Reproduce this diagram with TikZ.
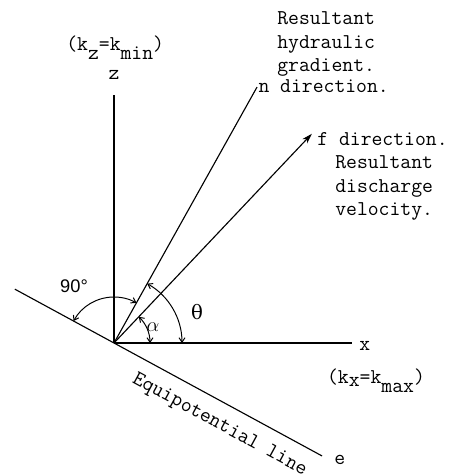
\documentclass[tikz,border=0pt]{standalone}
\usepackage{fontspec}
\setsansfont{Liberation Sans}
\newfontfamily\greekfont{DejaVu Serif}
\usetikzlibrary{positioning,arrows.meta,calc}
\newcommand{\lowsub}[2][0.4em]{\raisebox{-#1}{#2}}
\tikzset{
  axisLine/.style={line width=0.8pt, draw=black},
  dirArrow/.style={-{Stealth[length=2.6mm, width=1.6mm]}, line width=0.8pt, draw=black},
  angArc/.style={{Straight Barb[length=1.1mm, width=1.5mm]}-{Straight Barb[length=1.1mm, width=1.5mm]}, line width=0.7pt},
  lbl/.style={font=\fontsize{15}{16.7}\selectfont\ttfamily, inner sep=0pt},
  blockLbl/.style={lbl, align=left},
}

\begin{document}
\begin{tikzpicture}[
  greekLbl/.style={font=\fontsize{14}{16}\selectfont, inner sep=0pt},
  degLbl/.style={font=\fontsize{13}{15}\selectfont\sffamily, inner sep=0pt},
]
  \useasboundingbox (-2.85,-3.3) rectangle (8.575,8.575);

  \coordinate (o) at (0,0);
  \coordinate (xEnd) at (5.95,0);
  \coordinate (zEnd) at (0,6.2);
  \coordinate (nEnd) at (60.8:7.33);
  \coordinate (fEnd) at (46.6:7.2);
  \coordinate (eqTop) at (151.5:2.82);
  \coordinate (eqEnd) at (-28.5:5.92);

  \node[lbl, anchor=west] (xLbl) at ([xshift=0.18cm, yshift=-0.07cm]xEnd) {x};
  \node[lbl, anchor=base] (zLbl) at ([yshift=0.375cm]zEnd) {z};
  \node[lbl, anchor=base] (kzLbl) at (0.03,7.3) {(k\lowsub{z}=k\lowsub{min})};
  \node[lbl, anchor=base] (kxLbl) at (6.55,-1.0) {(k\lowsub[0.15em]{x}=k\lowsub[0.45em]{max})};
  \node[lbl, anchor=west] (eLbl) at ([xshift=0.3cm, yshift=-0.1cm]eqEnd) {e};
  \node[lbl, anchor=base west] (nLbl) at ([xshift=0.03cm, yshift=-0.13cm]nEnd) {n direction.};
  \node[blockLbl, anchor=north west] (gradLbl) at (4.075,8.28) {Resultant\\hydraulic\\gradient.};
  \node[lbl, anchor=base west] (fLbl) at ([xshift=0.13cm, yshift=-0.3cm]fEnd) {f direction.};
  \node[blockLbl, anchor=north west] (velLbl) at (5.525,4.68) {Resultant\\discharge\\velocity.};
  \node[greekLbl] (thetaLbl) at (2.075,0.775) {\greekfont θ};
  \node[greekLbl] (alphaLbl) at (0.975,0.4) {$\alpha$};
  \node[degLbl] (rightLbl) at (-1.0,1.41) {90°};

  \draw[axisLine] (o) -- (xEnd);
  \draw[axisLine] (o) -- (zEnd);
  \draw[axisLine] (o) -- (nEnd);
  \draw[dirArrow] (o) -- (fEnd);
  \draw[axisLine] (eqTop) -- node[lbl, sloped, below=9pt, pos=0.70] (eqLbl) {Equipotential line} (eqEnd);

  \draw[angArc] ($(o)+(151.5:1.15)$) arc[start angle=151.5, end angle=60.8, radius=1.15];
  \draw[angArc] ($(o)+(0:1.7)$) arc[start angle=0, end angle=60.8, radius=1.7];
  \draw[angArc] ($(o)+(0:0.9)$) arc[start angle=0, end angle=46.6, radius=0.9];

\end{tikzpicture}
\end{document}
